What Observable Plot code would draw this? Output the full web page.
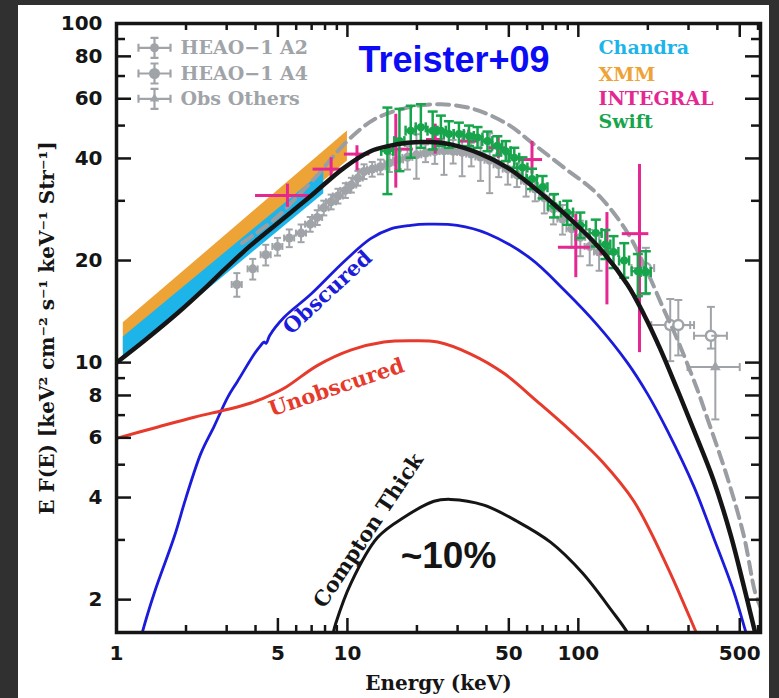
<!DOCTYPE html>
<html><head><meta charset="utf-8">
<script src="https://cdn.jsdelivr.net/npm/d3@7"></script>
<script src="https://cdn.jsdelivr.net/npm/@observablehq/plot@0.6"></script>
<style>
html,body{margin:0;padding:0;background:#303030;width:779px;height:698px;overflow:hidden;}
#panel{position:absolute;left:18px;top:5px;width:751px;height:693px;background:#fff;}
</style></head><body><div id="panel"></div>
<script>
// ---------- data ----------
// model curves: E (keV) and E F(E)
const totalE = [1.0, 1.32, 1.84, 2.4, 2.93, 3.82, 5.5, 6.94, 9.7, 12.6, 15, 18.2, 22.2, 28, 37.9, 49.3, 64, 86.6, 121, 163, 193, 226, 267, 317, 385, 457, 520, 583, 610];
const totalF = [10.0, 11.6, 14.0, 16.5, 18.8, 22.2, 27.2, 31.0, 37.6, 42.0, 43.5, 44.5, 44.7, 44.0, 41.2, 37.6, 32.9, 27.6, 22.1, 17.0, 13.8, 11.0, 8.4, 6.3, 4.5, 3.1, 2.2, 1.6, 1.4];

const dashE = [3.5, 4.0, 5.0, 6.1, 7.5, 8.8, 10.4, 13.1, 18.2, 25.4, 35.3, 49.3, 64, 86.6, 121, 163, 199, 235, 267, 326, 358, 441, 520, 583, 615];
const dashF = [22.5, 24.0, 27.0, 31.0, 36.0, 41.0, 46.2, 52.2, 56.5, 57.8, 55.9, 50.5, 44.1, 37.6, 31.4, 24.2, 18.5, 14.3, 11.8, 8.4, 7.0, 4.6, 3.1, 2.1, 1.9];

const obscE = [1.25, 1.30, 1.46, 1.78, 2.0, 2.32, 2.65, 3.03, 3.34, 3.95, 4.2, 4.35, 4.45, 4.6, 5.32, 6.94, 9.7, 12.6, 15.4, 18.8, 22.2, 29.9, 40.5, 62, 86.6, 121, 163, 199, 243, 317, 385, 470, 540, 560];
const obscF = [1.45, 1.62, 2.10, 3.07, 4.0, 5.4, 6.5, 7.9, 8.8, 10.6, 11.2, 11.5, 11.4, 12.0, 13.6, 15.9, 19.9, 23.2, 24.8, 25.4, 25.6, 25.4, 24.0, 20.3, 16.4, 12.9, 10.0, 8.1, 6.3, 4.3, 3.05, 2.12, 1.55, 1.45];

const unobE = [1.0, 1.5, 2.17, 2.83, 3.34, 3.82, 4.23, 5.32, 7.4, 10.4, 14.4, 18.8, 24.6, 34.2, 47.6, 66.1, 92.4, 127, 174, 243, 324, 345];
const unobF = [5.98, 6.45, 6.9, 7.2, 7.4, 7.6, 7.8, 8.4, 9.8, 10.9, 11.5, 11.6, 11.5, 10.6, 9.3, 7.7, 6.3, 5.1, 3.9, 2.5, 1.6, 1.45];

const ctkE = [8.5, 8.9, 10.4, 13.5, 17.6, 23.7, 28, 39, 54.5, 76, 104, 140, 163, 170];
const ctkF = [1.5, 1.7, 2.25, 3.05, 3.5, 3.9, 3.95, 3.8, 3.4, 2.95, 2.4, 1.85, 1.6, 1.5];

// XMM and Chandra bands: E, low, high
const xmmE = [1.07, 10];
const xmmLo = [10.8, 39.3];
const xmmHi = [13.1, 48.2];
const chaE = [1.07, 7.9];
const chaLo = [10.2, 31.5];
const chaHi = [11.9, 36.7];

// HEAO-1 A2 / other observations (grey): E, value, relative error
const grayE = [3.32, 3.89, 4.43, 4.98, 5.6, 6.3, 6.9, 7.4, 7.9, 8.5, 9.1, 9.8, 10.4, 11.1, 11.8, 12.8, 13.9, 15.2, 16.6, 18.2, 19.9, 21.8, 23.9, 26.2, 28.7, 31.4, 34.4, 37.7, 41.3, 45.2, 49.5, 54.2, 59.4, 65, 71.2, 78, 85.4, 93.5, 102, 112, 123];
const grayF = [17.0, 18.9, 20.8, 22.0, 23.3, 24.1, 25.6, 26.8, 28.6, 29.8, 31.0, 32.2, 33.4, 35.0, 36.6, 37.2, 37.8, 38.8, 39.6, 40.3, 41.0, 41.5, 41.9, 42.1, 42.0, 41.7, 41.2, 40.4, 39.5, 38.3, 37.2, 35.8, 34.3, 32.5, 30.6, 28.4, 26.5, 24.8, 23.4, 22.0, 21.2];
const grayErr = [0.08, 0.07, 0.07, 0.06, 0.06, 0.06, 0.05, 0.05, 0.05, 0.05, 0.05, 0.05, 0.05, 0.05, 0.05, 0.05, 0.05, 0.06, 0.06, 0.08, 0.15, 0.06, 0.08, 0.15, 0.08, 0.15, 0.08, 0.15, 0.2, 0.08, 0.1, 0.08, 0.1, 0.08, 0.1, 0.1, 0.1, 0.12, 0.12, 0.12, 0.12];
const grayDx = 0.05;

// HEAO-1 A4 (open circles) and one other point (triangle)
const a4E = [196, 250, 271, 375];
const a4F = [19.0, 12.9, 12.9, 12.0];
const a4Lo = [15.9, 10.1, 10.5, 11.0];
const a4Hi = [21.8, 15.4, 15.3, 14.6];
const a4Xlo = [170, 207, 240, 317];
const a4Xhi = [213, 317, 305, 440];
const othE = [392];
const othF = [9.7];
const othLo = [6.8];
const othHi = [12.0];
const othXlo = [297];
const othXhi = [500];

// INTEGRAL crosses
const intE = [5.5, 8.5, 11.0, 16.2, 24, 33.5, 45, 63, 97.5, 133, 184];
const intF = [31.1, 37.2, 41.2, 42.6, 45.5, 45, 43, 39.7, 21.9, 21.0, 24.0];
const intLo = [28.7, 34.8, 36.8, 32.7, 41.2, 42, 40, 36.0, 17.8, 14.8, 10.7];
const intHi = [33.6, 40.2, 43.6, 54, 50.5, 48.5, 46.5, 44.9, 27.4, 27.7, 38.4];
const intXlo = [4.0, 7.1, 9.7, 15, 22, 30.5, 41, 56, 82, 124, 155];
const intXhi = [6.9, 9.7, 12.5, 19.3, 26, 37, 49, 70, 113, 142, 202];

// Swift/BAT points
const swE = [14.9, 16.8, 18.8, 20.8, 23.4, 25.4, 27.5, 30.4, 33.6, 36.6, 40.4, 44.6, 48.5, 52.8, 57.3, 63, 70, 78.5, 89.5, 102, 119, 131, 142, 158, 181, 196];
const swF = [42.1, 45.0, 48.3, 49.4, 48.3, 48.3, 47.2, 47.2, 46.6, 46.1, 45.0, 43.6, 42.0, 40.2, 37.6, 34.8, 32.9, 29.0, 27.7, 25.4, 24.1, 22.3, 21.2, 20.0, 18.6, 18.5];
const swLo = [31.4, 36.7, 40.2, 43.0, 42.5, 43.5, 43.0, 43.5, 43.5, 43.0, 42.0, 40.8, 39.3, 37.5, 35.0, 32.5, 30.5, 26.8, 25.5, 23.3, 22.0, 20.2, 19.0, 17.8, 15.7, 16.0];
const swHi = [56.5, 56.0, 57.2, 57.8, 55.0, 53.5, 51.5, 51.0, 50.0, 49.5, 48.0, 46.5, 45.0, 43.0, 40.3, 37.3, 35.5, 31.4, 30.0, 27.7, 26.4, 24.6, 23.6, 22.5, 20.9, 21.3];
const swDx = [0.06, 0.05, 0.05, 0.05, 0.05, 0.05, 0.05, 0.05, 0.05, 0.05, 0.05, 0.05, 0.05, 0.05, 0.05, 0.05, 0.05, 0.06, 0.06, 0.06, 0.06, 0.05, 0.05, 0.05, 0.06, 0.05];

// ticks
const xMajor = [1, 5, 10, 50, 100, 500];
const xMinor = [2, 3, 4, 6, 7, 8, 9, 20, 30, 40, 60, 70, 80, 90, 200, 300, 400, 600];
const yMajor = [2, 4, 6, 8, 10, 20, 40, 60, 80, 100];
const yMinor = [3, 5, 7, 9, 30, 50, 70, 90];

const leftLegend = ["HEAO\u22121 A2", "HEAO\u22121 A4", "Obs Others"];
const rightLegend = ["Chandra", "XMM", "INTEGRAL", "Swift"];

// ---------- styles ----------
const GRAY = "#a0a4a8", DASH = "#9a9ea2", ORANGE = "#eea336", CYAN = "#1db4e9",
      MAGENTA = "#e52891", GREEN = "#17a54c", BLUE = "#1b1bdc", RED = "#e63b2c", BLACK = "#151515";
const rightColors = [CYAN, ORANGE, MAGENTA, GREEN];
const SERIF = "DejaVu Serif";
const W = 751, H = 693, ML = 98, MR = 9, MT = 18, MB = 66;
const FW = W - ML - MR, FH = H - MT - MB;

// ---------- tables ----------
const zip = (E, F) => E.map((e, i) => ({E: e, F: F[i]}));
const total = zip(totalE, totalF), dash = zip(dashE, dashF), obsc = zip(obscE, obscF),
      unob = zip(unobE, unobF), ctk = zip(ctkE, ctkF);
const xmm = xmmE.map((e, i) => ({E: e, lo: xmmLo[i], hi: xmmHi[i]}));
const cha = chaE.map((e, i) => ({E: e, lo: chaLo[i], hi: chaHi[i]}));
const gray = grayE.map((e, i) => ({E: e, F: grayF[i], lo: grayF[i] * (1 - grayErr[i]), hi: grayF[i] * (1 + grayErr[i]), xlo: e * (1 - grayDx), xhi: e * (1 + grayDx)}));
const a4 = a4E.map((e, i) => ({E: e, F: a4F[i], lo: a4Lo[i], hi: a4Hi[i], xlo: a4Xlo[i], xhi: a4Xhi[i]}));
const oth = othE.map((e, i) => ({E: e, F: othF[i], lo: othLo[i], hi: othHi[i], xlo: othXlo[i], xhi: othXhi[i]}));
const integ = intE.map((e, i) => ({E: e, F: intF[i], lo: intLo[i], hi: intHi[i], xlo: intXlo[i], xhi: intXhi[i]}));
const swift = swE.map((e, i) => ({E: e, F: swF[i], lo: swLo[i], hi: swHi[i], xlo: e * (1 - swDx[i]), xhi: e * (1 + swDx[i])}));

// ---------- glyph shapes ----------
const hcap = w => ({draw(c) { c.moveTo(-w, 0); c.lineTo(w, 0); }});
const vcap = h => ({draw(c) { c.moveTo(0, -h); c.lineTo(0, h); }});
const errGlyph = (hw, hh, cap) => ({draw(c) {
  c.moveTo(-hw, 0); c.lineTo(hw, 0);
  c.moveTo(-hw, -cap); c.lineTo(-hw, cap); c.moveTo(hw, -cap); c.lineTo(hw, cap);
  c.moveTo(0, -hh); c.lineTo(0, hh);
  c.moveTo(-cap, -hh); c.lineTo(cap, -hh); c.moveTo(-cap, hh); c.lineTo(cap, hh);
}});

function errorBars(data, color, sw, cap) {
  const m = [
    Plot.ruleX(data, {x: "E", y1: "lo", y2: "hi", stroke: color, strokeWidth: sw, clip: true}),
    Plot.ruleY(data, {y: "F", x1: "xlo", x2: "xhi", stroke: color, strokeWidth: sw, clip: true})
  ];
  if (cap) {
    m.push(
      Plot.dot(data, {x: "E", y: "lo", symbol: hcap(cap), stroke: color, fill: "none", strokeWidth: sw, clip: true}),
      Plot.dot(data, {x: "E", y: "hi", symbol: hcap(cap), stroke: color, fill: "none", strokeWidth: sw, clip: true}),
      Plot.dot(data, {x: "xlo", y: "F", symbol: vcap(cap), stroke: color, fill: "none", strokeWidth: sw, clip: true}),
      Plot.dot(data, {x: "xhi", y: "F", symbol: vcap(cap), stroke: color, fill: "none", strokeWidth: sw, clip: true})
    );
  }
  return m;
}

// inward ticks on all four sides
const xt = (vals, len) => [
  Plot.tickX(vals, {x: d => d, insetTop: FH - len, stroke: BLACK, strokeWidth: 2.5}),
  Plot.tickX(vals, {x: d => d, insetBottom: FH - len, stroke: BLACK, strokeWidth: 2.5})
];
const yt = (vals, len) => [
  Plot.tickY(vals, {y: d => d, insetRight: FW - len, stroke: BLACK, strokeWidth: 2.5}),
  Plot.tickY(vals, {y: d => d, insetLeft: FW - len, stroke: BLACK, strokeWidth: 2.5})
];

const legendRows = [24.3, 50, 75.3];
const rightRows = [24.8, 51, 75.3, 98.3];
const centered = {textAnchor: "middle", lineAnchor: "middle"};

const plot = Plot.plot({
  width: W, height: H,
  marginLeft: ML, marginRight: MR, marginTop: MT, marginBottom: MB,
  x: {type: "log", domain: [1, 615], axis: null},
  y: {type: "log", domain: [1.6, 100], axis: null},
  style: {background: "transparent", fontFamily: "DejaVu Sans", color: BLACK, overflow: "visible"},
  marks: [
    // grey observations
    ...errorBars(gray, GRAY, 2, 3.5),
    Plot.dot(gray, {x: "E", y: "F", r: 4.5, fill: GRAY, clip: true}),
    ...errorBars(a4, GRAY, 2, 4),
    Plot.dot(a4, {x: "E", y: "F", r: 5, stroke: GRAY, strokeWidth: 2.5, fill: "white", clip: true}),
    ...errorBars(oth, GRAY, 2, 4),
    Plot.dot(oth, {x: "E", y: "F", r: 4, symbol: "triangle", fill: GRAY, clip: true}),
    // bands
    Plot.areaY(xmm, {x: "E", y1: "lo", y2: "hi", fill: ORANGE}),
    Plot.areaY(cha, {x: "E", y1: "lo", y2: "hi", fill: CYAN}),
    // dashed model
    Plot.line(dash, {x: "E", y: "F", stroke: DASH, strokeWidth: 4, strokeDasharray: "12,7", curve: "catmull-rom", clip: true}),
    // INTEGRAL
    ...errorBars(integ, MAGENTA, 3, 0),
    // Swift
    ...errorBars(swift, GREEN, 2.5, 5),
    Plot.dot(swift, {x: "E", y: "F", r: 4, fill: GREEN, clip: true}),
    // models
    Plot.line(total, {x: "E", y: "F", stroke: BLACK, strokeWidth: 4.5, curve: "catmull-rom", clip: true}),
    Plot.line(obsc, {x: "E", y: "F", stroke: BLUE, strokeWidth: 2.8, curve: "catmull-rom", clip: true}),
    Plot.line(unob, {x: "E", y: "F", stroke: RED, strokeWidth: 3, curve: "catmull-rom", clip: true}),
    Plot.line(ctk, {x: "E", y: "F", stroke: BLACK, strokeWidth: 3, curve: "catmull-rom", clip: true}),
    // curve labels
    Plot.text(["Obscured"], {text: d => d, frameAnchor: "top-left", dx: 211, dy: 269, rotate: -42.7, fill: BLUE, fontFamily: SERIF, fontWeight: "bold", fontSize: 21, ...centered}),
    Plot.text(["Unobscured"], {text: d => d, frameAnchor: "top-left", dx: 220, dy: 364, rotate: -18.7, fill: RED, fontFamily: SERIF, fontWeight: "bold", fontSize: 21, ...centered}),
    Plot.text(["Compton Thick"], {text: d => d, frameAnchor: "top-left", dx: 252, dy: 507, rotate: -56.3, fill: BLACK, fontFamily: SERIF, fontWeight: "bold", fontSize: 21, ...centered}),
    Plot.text(["~10%"], {text: d => d, frameAnchor: "top-left", dx: 332, dy: 533, fill: BLACK, fontFamily: "Liberation Sans", fontWeight: "bold", fontSize: 37, ...centered}),
    Plot.text(["Treister+09"], {text: d => d, frameAnchor: "top-left", dx: 337.5, dy: 37, fill: "#0b0bf5", fontFamily: "Liberation Sans", fontWeight: "bold", fontSize: 36, ...centered}),
    // left legend
    ...leftLegend.map((t, i) => Plot.dot([t], {frameAnchor: "top-left", dx: 38, dy: legendRows[i], symbol: errGlyph(16, 10, 4), stroke: GRAY, strokeWidth: 2.2, fill: "none"})),
    Plot.dot([0], {frameAnchor: "top-left", dx: 38, dy: legendRows[0], r: 4.5, fill: GRAY}),
    Plot.dot([0], {frameAnchor: "top-left", dx: 38, dy: legendRows[1], r: 5.5, fill: GRAY}),
    Plot.dot([0], {frameAnchor: "top-left", dx: 38, dy: legendRows[2], r: 3.5, symbol: "triangle", fill: GRAY}),
    ...leftLegend.map((t, i) => Plot.text([t], {text: d => d, frameAnchor: "top-left", dx: 64, dy: legendRows[i], textAnchor: "start", lineAnchor: "middle", fill: GRAY, fontFamily: SERIF, fontWeight: "bold", fontSize: 19})),
    // right legend
    ...rightLegend.map((t, i) => Plot.text([t], {text: d => d, frameAnchor: "top-left", dx: 482, dy: rightRows[i], textAnchor: "start", lineAnchor: "middle", fill: rightColors[i], fontFamily: SERIF, fontWeight: "bold", fontSize: 19})),
    // ticks
    ...xt(xMajor, 14), ...xt(xMinor, 7),
    ...yt(yMajor, 15), ...yt(yMinor, 9),
    Plot.frame({stroke: BLACK, strokeWidth: 3.5}),
    // tick labels
    Plot.text(xMajor, {x: d => d, text: d => String(d), frameAnchor: "bottom", dy: 21, ...centered, fill: BLACK, fontFamily: "DejaVu Sans", fontWeight: "bold", fontSize: 20}),
    Plot.text(yMajor, {y: d => d, text: d => String(d), frameAnchor: "left", dx: -14, textAnchor: "end", lineAnchor: "middle", fill: BLACK, fontFamily: "DejaVu Sans", fontWeight: "bold", fontSize: 20}),
    // axis titles
    Plot.text(["Energy (keV)"], {text: d => d, frameAnchor: "bottom", dy: 51, ...centered, fill: BLACK, fontFamily: SERIF, fontWeight: "bold", fontSize: 20}),
    Plot.text(["E F(E) [keV\u00B2 cm\u207B\u00B2 s\u207B\u00B9 keV\u207B\u00B9 Str\u207B\u00B9]"], {text: d => d, frameAnchor: "left", dx: -69, rotate: -90, ...centered, fill: BLACK, fontFamily: SERIF, fontWeight: "bold", fontSize: 20})
  ]
});
document.getElementById("panel").appendChild(plot);
</script></body></html>
